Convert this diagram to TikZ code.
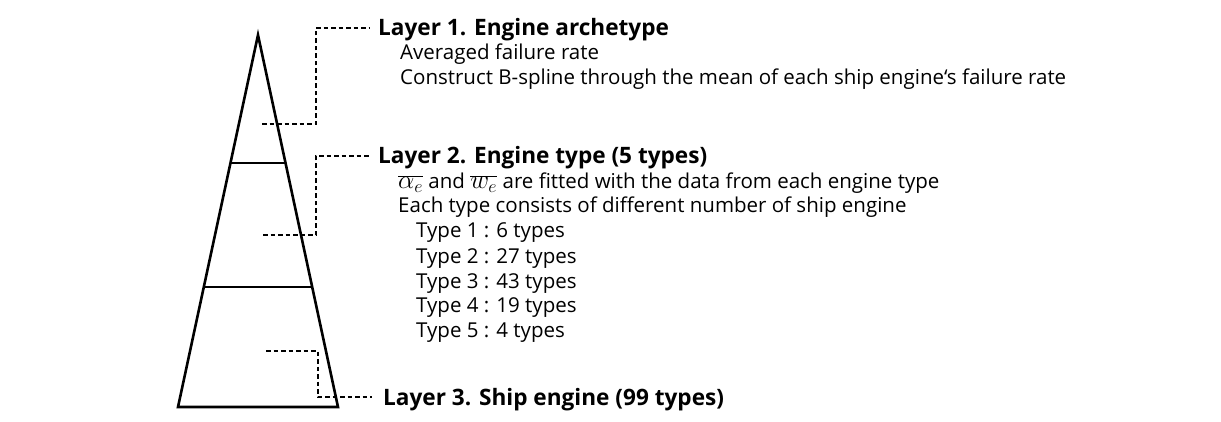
\documentclass[tikz,border=0pt]{standalone}
\usepackage{fontspec}
\usepackage{graphicx}
\setmainfont{Open Sans}
\usetikzlibrary{calc}
\newcommand{\barsym}[1]{\scalebox{1.25}{$\overline{#1}$}}
\begin{document}
\begin{tikzpicture}[x=1pt,y=-1pt,
  layertitle/.style={font=\fontsize{22.6}{26}\selectfont\bfseries, anchor=base west,
    inner xsep=8pt, inner ysep=0pt, text height=16pt, text depth=0pt},
  bodyline/.style={font=\fontsize{20.5}{24}\selectfont, anchor=base west, inner sep=0pt},
  leader/.style={dashed, dash pattern=on 4.5pt off 3pt, line width=1.4pt},
  pyramid/.style={line width=2.6pt, line join=miter},
  divider/.style={line width=2pt}]
  \useasboundingbox (0,0) rectangle (1221,422);

  % pyramid outline and layer dividers
  \coordinate (apex) at (258,35);
  \coordinate (bl) at (178,407);
  \coordinate (br) at (338,407);
  \draw[pyramid] (bl) -- (apex) -- (br) -- cycle;
  \coordinate (d1l) at (230.5,163);
  \coordinate (d1r) at (285.5,163);
  \coordinate (d2l) at (204,287);
  \coordinate (d2r) at (312,287);
  \draw[divider] (d1l) -- (d1r);
  \draw[divider] (d2l) -- (d2r);

  % layer titles
  \node[layertitle] (t1) at (370,36) {Layer 1. Engine archetype};
  \node[layertitle] (t2) at (370,164) {Layer 2. Engine type (5 types)};
  \node[layertitle, inner xsep=11pt] (t3) at (372,405) {Layer 3. Ship engine (99 types)};

  % descriptions
  \node[bodyline] (l1a) at (400,60) {Averaged failure rate};
  \node[bodyline] (l1b) at (400,85) {Construct B-spline through the mean of each ship engine\symbol{"60}s failure rate};

  \node[bodyline] (l2a) at (398,189) {\barsym{\alpha_e} and \barsym{w_e} are fitted with the data from each engine type};
  \node[bodyline] (l2b) at (398,213) {Each type consists of different number of ship engine};
  \node[bodyline] (ty1) at (416,238) {Type 1 : 6 types};
  \node[bodyline] (ty2) at (416,263) {Type 2 : 27 types};
  \node[bodyline] (ty3) at (416,288) {Type 3 : 43 types};
  \node[bodyline] (ty4) at (416,312) {Type 4 : 19 types};
  \node[bodyline] (ty5) at (416,337) {Type 5 : 4 types};

  % dashed leaders from each layer to its title
  \coordinate (p1) at (262,124);
  \coordinate (p2) at (263,235);
  \coordinate (p3) at (266,351);
  \draw[leader] (p1) -- ++(54,0) |- (t1.west);
  \draw[leader] (p2) -- ++(53,0) |- (t2.west);
  \draw[leader] (p3) -- ++(52,0) |- (t3.west);
\end{tikzpicture}
\end{document}
